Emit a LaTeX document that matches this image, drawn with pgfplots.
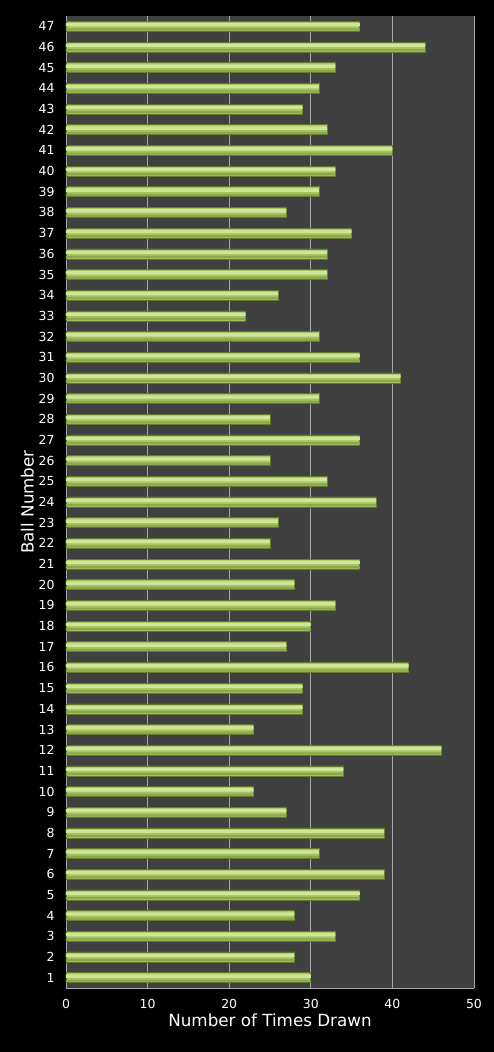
\documentclass[border=0pt]{standalone}
\usepackage{pgfplots}
\usepackage{pgfplotstable}
\pgfplotsset{compat=1.18}
\usepackage{fontspec}
\setmainfont{DejaVu Sans}

\definecolor{plotbg}{HTML}{404040}
\definecolor{gridc}{HTML}{A6A6A6}
\definecolor{barmid}{HTML}{A6C560}
\definecolor{barhi}{HTML}{CFE597}
\definecolor{barlo}{HTML}{8DA84A}
\definecolor{baredge}{HTML}{64792C}

% ball number, times drawn
\pgfplotstableread{
ball count
1 30
2 28
3 33
4 28
5 36
6 39
7 31
8 39
9 27
10 23
11 34
12 46
13 23
14 29
15 29
16 42
17 27
18 30
19 33
20 28
21 36
22 25
23 26
24 38
25 32
26 25
27 36
28 25
29 31
30 41
31 36
32 31
33 22
34 26
35 32
36 32
37 35
38 27
39 31
40 33
41 40
42 32
43 29
44 31
45 33
46 44
47 36
}\draws

\begin{document}
\begin{tikzpicture}
\fill[black] (-66bp,-64bp) rectangle (428bp,988bp);
\begin{axis}[
  at={(0,0)}, anchor=south west,
  scale only axis, width=408bp, height=972bp,
  xmin=0, xmax=50, ymin=0.5, ymax=47.5,
  xtick={0,10,...,50}, ytick={1,...,47},
  axis background/.style={fill=plotbg},
  axis x line*=bottom, axis y line*=left,
  axis line style={gridc, line width=0.8bp},
  xmajorgrids, major grid style={gridc, line width=0.7bp},
  major tick length=0pt,
  /pgf/number format/assume math mode=true,
  tick label style={text=white, font=\fontsize{12.5}{15}\selectfont},
  xticklabel style={yshift=-8bp},
  yticklabel style={xshift=-8bp},
  xlabel={Number of Times Drawn},
  ylabel={Ball Number},
  label style={text=white, font=\fontsize{16.8}{20}\selectfont},
  xlabel style={yshift=2bp},
  ylabel style={yshift=-2bp},
]
% bar body
\addplot[xbar, bar width=10bp, bar shift=0bp, draw=baredge, line width=0.6bp, fill=barmid]
  table[x=count, y=ball] {\draws};
% lower, darker band
\addplot[xbar, bar width=2.2bp, bar shift=-3.2bp, draw=none, fill=barlo]
  table[x=count, y=ball] {\draws};
% bright highlight along the upper half
\addplot[xbar, bar width=3.4bp, bar shift=1.6bp, draw=none, fill=barhi]
  table[x=count, y=ball] {\draws};
\end{axis}
\end{tikzpicture}
\end{document}
